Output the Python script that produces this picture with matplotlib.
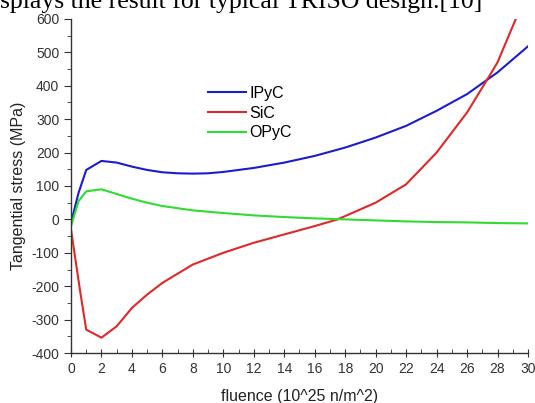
import matplotlib
matplotlib.use("Agg")
import matplotlib.pyplot as plt
from matplotlib.ticker import MultipleLocator

plt.rcParams['font.family'] = ['Liberation Sans', 'DejaVu Sans']
plt.rcParams['axes.unicode_minus'] = False

# values
ipyc_x = [0, 0.5, 1, 2, 3, 4, 5, 6, 7, 8, 9, 10, 12, 14, 16, 18, 20, 22, 24, 26, 28, 30]
ipyc_y = [-10, 80, 148, 175, 170, 158, 148, 141, 138, 137, 138, 142, 154, 170, 190, 215, 245, 280, 325, 375, 440, 518]

sic_x = [0, 0.6, 1, 2, 3, 4, 5, 6, 8, 10, 12, 14, 16, 17.5, 18, 20, 22, 24, 26, 27.5, 28, 29.2]
sic_y = [-30, -215, -330, -354, -320, -265, -225, -190, -135, -100, -70, -45, -20, 0, 10, 50, 105, 200, 320, 432, 470, 600]

opyc_x = [0, 0.5, 1, 2, 3, 4, 5, 6, 8, 10, 12, 14, 16, 18, 20, 22, 24, 26, 28, 30]
opyc_y = [-20, 55, 84, 90, 76, 62, 50, 40, 27, 19, 12, 7, 3, 0, -3, -6, -8, -9, -11, -12]

series = [("IPyC", ipyc_x, ipyc_y, "#1c1ccf"),
          ("SiC", sic_x, sic_y, "#e02828"),
          ("OPyC", opyc_x, opyc_y, "#2fdc2f")]

fig = plt.figure(figsize=(5.35, 4.03), dpi=100)
ax = fig.add_axes([0.1327, 0.124, 0.8542, 0.829])

for name, xs, ys, col in series:
    ax.plot(xs, ys, color=col, lw=1.5, label=name)

ax.set_xlim(0, 30)
ax.set_ylim(-400, 600)
ax.xaxis.set_major_locator(MultipleLocator(2))
ax.xaxis.set_minor_locator(MultipleLocator(1))
ax.yaxis.set_major_locator(MultipleLocator(100))
ax.yaxis.set_minor_locator(MultipleLocator(50))
ax.spines['top'].set_visible(False)
ax.spines['right'].set_visible(False)
for s in ['left', 'bottom']:
    ax.spines[s].set_color('#333333')
    ax.spines[s].set_linewidth(1.0)
ax.tick_params(axis='y', which='major', direction='out', length=5, labelsize=10, colors='#333333')
ax.tick_params(axis='y', which='minor', direction='out', length=3, colors='#333333')
ax.tick_params(axis='x', which='major', direction='inout', length=6, labelsize=10, colors='#333333')
ax.tick_params(axis='x', which='minor', direction='in', length=3, colors='#333333')

ax.set_xlabel("fluence (10^25 n/m^2)", fontsize=11.5, color='#222222', labelpad=9)
ax.set_ylabel("Tangential stress (MPa)", fontsize=11.5, color='#222222', labelpad=4)

ax.legend(loc='upper left', bbox_to_anchor=(0.30, 0.80), frameon=False,
          borderaxespad=0, borderpad=0,
          fontsize=11.5, handlelength=2.4, handletextpad=0.2, labelspacing=0.3)

# caption line of the surrounding page, cut at the top edge
fig.text(0.0, 0.98, "splays the result for typical TRISO design.[10]",
         fontsize=18.5, family='Liberation Serif', ha='left', va='baseline')

fig.savefig("out.png", dpi=100)
